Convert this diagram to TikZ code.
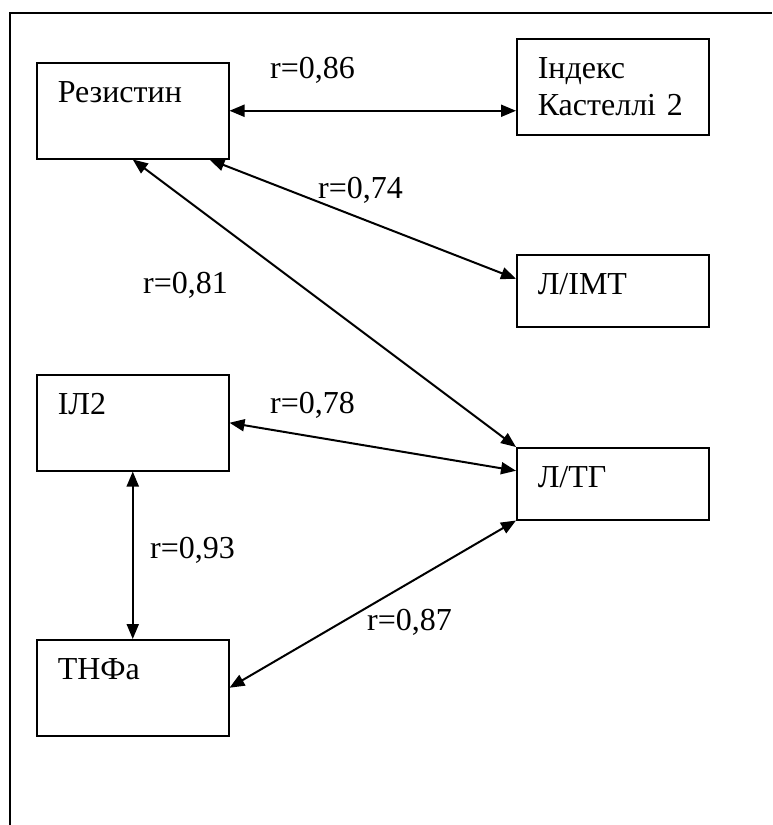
\documentclass[tikz,border=0pt]{standalone}
\usepackage{fontspec}
\setmainfont[Script=Cyrillic]{Liberation Serif}
\usetikzlibrary{arrows.meta}
\begin{document}
\begin{tikzpicture}[x=1pt,y=-1pt,
    every node/.style={font=\fontsize{32}{37}\selectfont},
    cell/.style={draw,line width=1.5pt,anchor=north west,align=left,
      text width=150pt,inner xsep=21pt,inner ysep=0pt,
      text height=40pt,text depth=56pt},
    flatcell/.style={cell,text depth=32pt},
    coef/.style={anchor=base west,inner sep=0pt},
    link/.style={arrows={Triangle[length=15pt,width=12pt]-Triangle[length=15pt,width=12pt]},
      line width=2pt}]
  \useasboundingbox (0,0) rectangle (772,825);
  \draw[line width=2pt] (10,825) -- (10,13) -- (772,13);
  \node[cell] (rez) at (36,62) {Резистин};
  \node[cell] (kast) at (516,38) {Індекс\\Кастеллі 2};
  \node[flatcell] (limt) at (516,254) {Л/ІМТ};
  \node[cell] (il2) at (36,374) {ІЛ2};
  \node[flatcell] (ltg) at (516,447) {Л/ТГ};
  \node[cell] (tnf) at (36,639) {ТНФа};
  \node[coef] (r86) at (270,78) {r=0,86};
  \node[coef] (r74) at (318,198) {r=0,74};
  \node[coef] (r81) at (143,293) {r=0,81};
  \node[coef] (r78) at (270,413) {r=0,78};
  \node[coef] (r93) at (150,558) {r=0,93};
  \node[coef] (r87) at (367,630) {r=0,87};
  \begin{scope}[link]
    \draw (rez.east) to (rez.east -| kast.west);
    \draw ([xshift=-20pt]rez.south east) to ([yshift=12pt]limt.west);
    \draw (rez.south) to (ltg.north west);
    \draw (il2.east) to ([yshift=13pt]ltg.west);
    \draw (il2.south) to (tnf.north);
    \draw (tnf.east) to (ltg.south west);
  \end{scope}
\end{tikzpicture}
\end{document}
